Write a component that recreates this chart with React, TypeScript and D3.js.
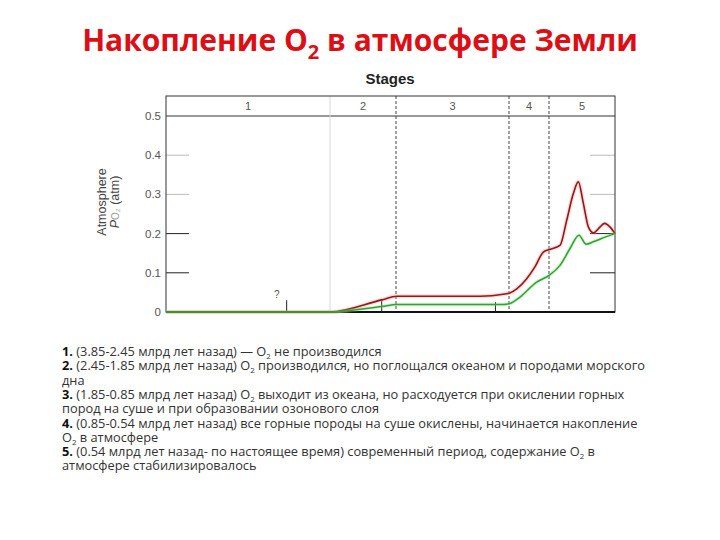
import React from 'react';
import * as d3 from 'd3';

// stage boundaries, billions of years ago
const stageBounds = [3.85, 2.45, 1.85, 0.85, 0.54, 0];
const stageNames = ['1', '2', '3', '4', '5'];
const yTicks = [0, 0.1, 0.2, 0.3, 0.4, 0.5];
const yTickLabels = ['0', '0.1', '0.2', '0.3', '0.4', '0.5'];

// upper estimate of O2 (red)
const redAge = [3.85, 2.45, 1.98, 1.844, 1.107, 0.885, 0.848, 0.79, 0.713, 0.649, 0.584, 0.542, 0.45, 0.395, 0.341, 0.3, 0.259, 0.218, 0.177, 0.122, 0.085, 0.042, 0];
const redO2 = [0, 0, 0.031, 0.04, 0.04, 0.046, 0.048, 0.059, 0.085, 0.115, 0.153, 0.159, 0.17, 0.234, 0.302, 0.332, 0.277, 0.217, 0.202, 0.217, 0.226, 0.217, 0.2];

// lower estimate of O2 (green)
const greenAge = [3.85, 2.45, 1.98, 1.844, 0.9, 0.848, 0.765, 0.636, 0.542, 0.45, 0.368, 0.295, 0.237, 0.177, 0.081, 0];
const greenO2 = [0, 0, 0.014, 0.019, 0.019, 0.021, 0.038, 0.076, 0.093, 0.119, 0.162, 0.196, 0.173, 0.179, 0.191, 0.2];

// small uncertainty markers on the baseline
const markAge = [2.82, 1.98, 0.97];
const markTop = [0.03, 0.031, 0.025];

const notes = [
  ['1.', ' (3.85-2.45 млрд лет назад) — O₂ не производился'],
  ['2.', ' (2.45-1.85 млрд лет назад) O₂ производился, но поглощался океаном и породами морского'],
  ['', 'дна'],
  ['3.', ' (1.85-0.85 млрд лет назад) O₂ выходит из океана, но расходуется при окислении горных'],
  ['', 'пород на суше и при образовании озонового слоя'],
  ['4.', ' (0.85-0.54 млрд лет назад) все горные породы на суше окислены, начинается накопление'],
  ['', 'O₂ в атмосфере'],
  ['5.', ' (0.54 млрд лет назад- по настоящее время) современный период, содержание O₂ в'],
  ['', 'атмосфере стабилизировалось'],
];

const x = d3.scaleLinear().domain(stageBounds).range([166, 330, 396, 509, 549, 615]);
const y = d3.scaleLinear().domain([0, 0.5]).range([312, 116]);

const line = d3.line<[number, number]>()
  .x(d => x(d[0]))
  .y(d => y(d[1]))
  .curve(d3.curveMonotoneX);

// render "O₂" with a lowered small 2; the text after it moves back up
function withSub(text: string, size: number) {
  const parts = text.split('O₂');
  const shift = size * 0.22;
  const out: React.ReactNode[] = [];
  parts.forEach((p, i) => {
    if (i > 0) {
      out.push(<tspan key={'o' + i}>O</tspan>);
      out.push(<tspan key={'s' + i} fontSize={size * 0.62} dy={shift}>2</tspan>);
      out.push(<tspan key={'p' + i} dy={-shift}>{p || '\u200b'}</tspan>);
    } else if (p) {
      out.push(<tspan key={'p' + i}>{p}</tspan>);
    }
  });
  return out;
}

export default function App() {
  const top = 96;
  const bottom = y(0);
  const left = x(3.85);
  const right = x(0);
  const redPts = redAge.map((a, i) => [a, redO2[i]] as [number, number]);
  const greenPts = greenAge.map((a, i) => [a, greenO2[i]] as [number, number]);
  const axisFont = '"Liberation Sans", Arial, sans-serif';
  const bodyFont = '"Open Sans", "Noto Sans", sans-serif';
  const bodySize = 12.8;

  return (
    <svg width={720} height={540} style={{ position: 'absolute', left: 0, top: 0, background: '#fff' }}>
      {/* title */}
      <text x={360} y={51} textAnchor="middle" fill="#dc0f16" fontFamily={bodyFont} fontWeight="bold" fontSize={30}>
        Накопление O
        <tspan fontSize={20} dy={8}>2</tspan>
        <tspan dy={-8}> в атмосфере Земли</tspan>
      </text>

      <text x={390} y={84} textAnchor="middle" fontFamily={axisFont} fontWeight="bold" fontSize={15} fill="#222">Stages</text>

      {/* y ticks, short marks inside on both sides */}
      {yTicks.map((t, i) => (
        <g key={t}>
          {t === 0.5 ? (
            <line x1={left} x2={right} y1={y(t)} y2={y(t)} stroke="#333" strokeWidth={1} />
          ) : t > 0 ? (
            <>
              <line x1={left} x2={left + 23} y1={y(t)} y2={y(t)} stroke={t <= 0.2 ? '#222' : '#bbb'} strokeWidth={1} />
              <line x1={right - 25} x2={right} y1={y(t)} y2={y(t)} stroke={t <= 0.2 ? '#222' : '#bbb'} strokeWidth={1} />
            </>
          ) : null}
          <text x={161} y={y(t) + 4} textAnchor="end" fontFamily={axisFont} fontSize={11.5} fill="#555">{yTickLabels[i]}</text>
        </g>
      ))}

      {/* stage dividers */}
      {stageBounds.slice(1, -1).map((b, i) => (
        <line key={b} x1={x(b)} x2={x(b)} y1={top} y2={bottom}
          stroke={i === 0 ? '#d8d8d8' : '#444'} strokeWidth={1}
          strokeDasharray={i === 0 ? undefined : '3,2'} />
      ))}
      {stageNames.map((s, i) => (
        <text key={s} x={(x(stageBounds[i]) + x(stageBounds[i + 1])) / 2} y={110}
          textAnchor="middle" fontFamily={axisFont} fontSize={11} fill="#555">{s}</text>
      ))}

      {/* frame */}
      <rect x={left} y={top} width={right - left} height={bottom - top} fill="none" stroke="#333" strokeWidth={1} />
      <line x1={left} x2={right} y1={bottom} y2={bottom} stroke="#111" strokeWidth={2} />

      {/* uncertainty marks */}
      {markAge.map((a, i) => (
        <line key={a} x1={x(a)} x2={x(a)} y1={bottom} y2={y(markTop[i])} stroke="#222" strokeWidth={1} />
      ))}
      <text x={x(markAge[0]) - 10} y={y(0.03) - 2} textAnchor="middle" fontFamily={axisFont} fontSize={10} fill="#555">?</text>

      {/* curves */}
      <path d={line(redPts) || ''} fill="none" stroke="rgba(255,140,140,0.35)" strokeWidth={4} />
      <path d={line(redPts) || ''} fill="none" stroke="#8e1b1b" strokeWidth={1.6} />
      <path d={line(greenPts) || ''} fill="none" stroke="rgba(120,220,120,0.35)" strokeWidth={3.5} />
      <path d={line(greenPts) || ''} fill="none" stroke="#35a035" strokeWidth={1.5} />

      {/* y axis title */}
      <g transform={`translate(106,202) rotate(-90)`} fontFamily={axisFont} fontSize={12.5} fill="#444" textAnchor="middle">
        <text x={0} y={0}>Atmosphere</text>
        <text x={0} y={13}>
          <tspan fontStyle="italic">P</tspan>
          <tspan fill="#999" fontSize={10}>O₂</tspan>
          <tspan>  (atm)</tspan>
        </text>
      </g>

      {/* stage notes */}
      {notes.map((n, i) => (
        <text key={i} x={62} y={356 + i * 14.3} fontFamily={bodyFont} fontSize={bodySize} fill="#333">
          {n[0] ? <tspan fontWeight="bold" fill="#111">{n[0]}</tspan> : null}
          {withSub(n[1], bodySize)}
        </text>
      ))}
    </svg>
  );
}
